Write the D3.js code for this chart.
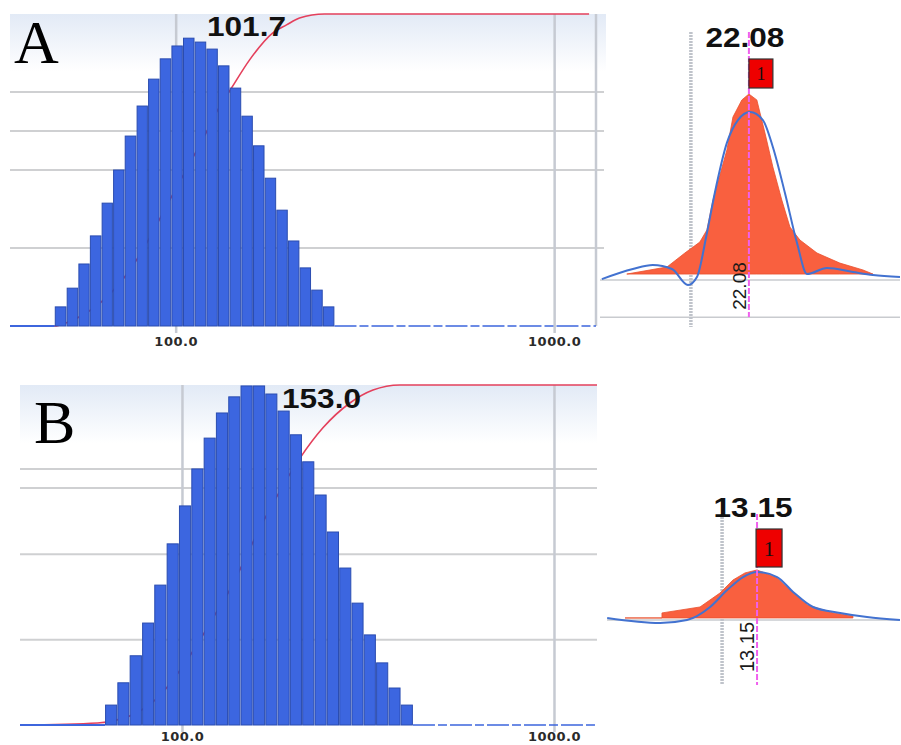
<!DOCTYPE html>
<html>
<head>
<meta charset="utf-8">
<script src="https://cdn.jsdelivr.net/npm/d3@7"></script>
<style>
body { margin: 0; background: #fff; }
</style>
</head>
<body>
<svg id="chart"></svg>
<script>
// ---------- data ----------
var sizeTicks = [100, 1000];

// panel A, size distribution (nm, intensity %)
var binEdgesA = [47.9, 51.5, 55.3, 59.3, 63.7, 68.3, 73.3, 78.8, 84.5, 90.7, 97.4, 104.5, 112.2,
                 120.5, 129.3, 138.8, 149.1, 160.0, 171.8, 184.4, 197.9, 212.4, 228.0, 244.8, 262.8];
var intensityA = [0.49, 0.97, 1.59, 2.31, 3.15, 4.00, 4.87, 5.64, 6.33, 6.85, 7.18, 7.38,
                  7.28, 7.10, 6.67, 6.10, 5.38, 4.62, 3.79, 2.97, 2.18, 1.49, 0.92, 0.49];
var cumSizeA = [36.5, 47.9, 51.3, 77.9, 83.3, 95.8, 104.4, 120.7, 129.1, 140.5, 156.8, 180.3, 196.3, 212.4, 247.3, 1237];
var cumValA  = [0, 0, 1, 20.2, 26, 39.7, 48, 62.2, 69.2, 76.3, 85.3, 93.9, 96.5, 98.7, 100, 100];
var gridA = [2, 4, 5, 6];

// panel B, size distribution
var binEdgesB = [62.1, 67.0, 72.3, 78.1, 84.2, 90.9, 98.1, 105.9, 114.3, 123.3, 133.1, 143.6, 155.0,
                 167.4, 180.6, 194.9, 210.3, 227.0, 245.0, 264.5, 285.4, 307.9, 332.3, 358.7, 387.1, 417.8];
var intensityB = [0.42, 0.89, 1.46, 2.15, 2.95, 3.82, 4.62, 5.40, 6.05, 6.58, 6.92, 7.15, 7.15,
                  6.98, 6.62, 6.12, 5.55, 4.85, 4.07, 3.31, 2.57, 1.90, 1.31, 0.78, 0.42];
var cumSizeB = [36.7, 59.4, 77.1, 83.6, 111.8, 121.2, 132.1, 165.1, 207.6, 239.3, 282.8, 326.2, 385.5, 1305];
var cumValB  = [0, 0.6, 4.1, 6.8, 25, 31.5, 38.2, 59.7, 78.5, 87.4, 94.7, 98.5, 100, 100];
var gridB = [1.8, 3.6, 5.0, 5.4];

// zeta panels (mV, counts)
var fillMvA  = [-24.4, -9.1, -2.3, 3.4, 6.1, 8.4, 13.7, 16.0, 19.4, 22.08, 25.1, 28.2, 31.2, 34.6, 37.7, 41.5, 48.0, 56.7, 65.5, 69.3];
var fillValA = [3.2, 7.0, 14.5, 20.4, 26.9, 43.0, 69.9, 87.6, 96.8, 100, 96.8, 79.0, 60.8, 43.0, 28.5, 21.5, 14.5, 9.1, 5.4, 3.2];
var fitMvA   = [-33.9, -22.1, -14.5, -7.2, -1.1, 2.3, 6.1, 9.1, 13.7, 17.9, 22.5, 27.4, 31.2, 35.8, 40.4, 44.2, 51.8, 61.7, 69.3, 79.6];
var fitValA  = [0.5, 5.9, 8.1, 5.9, -2.7, 1.6, 25.3, 46.8, 73.7, 86.0, 90.3, 86.0, 71.5, 46.8, 19.9, 3.2, 6.5, 4.3, 2.7, 1.6];

var fillMvB  = [-36.5, -22.6, -22.6, -8.3, -0.8, 4.1, 8.6, 13.15, 20.7, 26.7, 32.0, 41.7, 49.2];
var fillValB = [1.1, 1.1, 3.8, 7.0, 14.5, 21.5, 25.3, 26.9, 22.6, 14.5, 8.1, 3.8, 2.2];
var fitMvB   = [-43.2, -23.3, -13.2, -4.5, 1.9, 7.9, 13.15, 20.7, 26.7, 34.2, 44.4, 54.5, 66.9];
var fitValB  = [1.1, -1.6, 0, 7.0, 16.1, 23.1, 25.8, 23.1, 15.1, 7.0, 3.8, 1.6, 0];

var peakA = 22.08, peakB = 13.15;
var modeA = "101.7", modeB = "153.0";

// ---------- setup ----------
var svg = d3.select("#chart").attr("width", 901).attr("height", 745);

var grad = svg.append("defs").append("linearGradient")
	.attr("id", "band").attr("x1", 0).attr("y1", 0).attr("x2", 0).attr("y2", 1);
grad.append("stop").attr("offset", "0%").attr("stop-color", "#e2eaf6");
grad.append("stop").attr("offset", "100%").attr("stop-color", "#ffffff");

var zip = function (a, b) { return a.map(function (v, i) { return [v, b[i]]; }); };

//----------size distribution panel-------------
var drawSizePanel = function (p)
{
	var x = d3.scaleLog().domain(p.domain).range([p.left, p.right]);
	var y = d3.scaleLinear().domain([0, p.yMax]).range([p.base, p.top]);
	var yc = d3.scaleLinear().domain([0, 100]).range([p.base, p.top]);
	var g = svg.append("g");

	g.append("rect")
		.attr("x", p.left).attr("y", p.top)
		.attr("width", p.bandRight - p.left).attr("height", p.bandH)
		.attr("fill", "url(#band)");

	g.selectAll(".hgrid")
		.data(p.grid)
		.enter()
		.append("line")
		.attr("x1", p.left).attr("x2", p.gridRight)
		.attr("y1", function (d) { return y(d); })
		.attr("y2", function (d) { return y(d); })
		.attr("stroke", "#cfd0d2").attr("stroke-width", 2);

	// vertical grid + labels
	var axis = d3.axisBottom(x)
		.tickValues(sizeTicks)
		.tickFormat(d3.format(".1f"))
		.tickSizeInner(-(p.base + 7 - p.top))
		.tickSizeOuter(0)
		.tickPadding(p.pad);
	var ax = g.append("g")
		.attr("transform", "translate(0," + (p.base + 7) + ")")
		.call(axis);
	ax.select(".domain").remove();
	ax.selectAll("line").attr("stroke", "#c6cad2").attr("stroke-width", 2.5);
	ax.selectAll("text")
		.attr("fill", "#2a2a2a")
		.style("font-family", "DejaVu Sans")
		.style("font-weight", "bold")
		.style("font-size", "13px")
		.style("letter-spacing", "0.5px");

	if (p.border) {
		g.append("line")
			.attr("x1", p.right).attr("x2", p.right)
			.attr("y1", p.top).attr("y2", p.base)
			.attr("stroke", "#c6cad2").attr("stroke-width", 2.5);
	}

	// cumulative curve, behind bars
	var cum = d3.line()
		.x(function (d) { return x(d[0]); })
		.y(function (d) { return yc(d[1]); })
		.curve(d3.curveMonotoneX);
	g.append("path")
		.datum(zip(p.cumSize, p.cumVal))
		.attr("d", cum)
		.attr("fill", "none")
		.attr("stroke", "#e4405c").attr("stroke-width", 1.6);

	// baseline of the distribution
	g.append("line")
		.attr("x1", p.left).attr("x2", x(p.edges[0]))
		.attr("y1", p.base).attr("y2", p.base)
		.attr("stroke", "#3d66dd").attr("stroke-width", 2);
	g.append("line")
		.attr("x1", x(p.edges[p.edges.length - 1])).attr("x2", p.right)
		.attr("y1", p.base).attr("y2", p.base)
		.attr("stroke", "#3d66dd").attr("stroke-width", 1.5)
		.attr("stroke-dasharray", "22,3,9,3");

	g.selectAll(".bar")
		.data(p.values)
		.enter()
		.append("rect")
		.attr("x", function (d, i) { return x(p.edges[i]) + 0.6; })
		.attr("width", function (d, i) { return x(p.edges[i + 1]) - x(p.edges[i]) - 1.2; })
		.attr("y", function (d) { return y(d); })
		.attr("height", function (d) { return p.base - y(d); })
		.attr("fill", "#3c66e0")
		.attr("stroke", "#2a4cb0").attr("stroke-width", 1);

	g.append("text")
		.attr("x", p.modeX).attr("y", p.modeY)
		.attr("textLength", 79).attr("lengthAdjust", "spacingAndGlyphs")
		.style("font-family", "Liberation Sans")
		.style("font-weight", "bold")
		.style("font-size", "28px")
		.attr("fill", "#111")
		.text(p.mode);

	g.append("text")
		.attr("x", p.letterX).attr("y", p.letterY)
		.style("font-family", "Liberation Serif")
		.style("font-size", "62px")
		.attr("fill", "#000")
		.text(p.letter);
};

//----------zeta panel-------------
var drawZetaPanel = function (p)
{
	var x = d3.scaleLinear().domain(p.mvDomain).range([600, 900]);
	var y = d3.scaleLinear().domain([0, 100]).range([p.zero, p.zero - 186]);
	var g = svg.append("g");

	g.selectAll(".ref")
		.data(p.refs)
		.enter()
		.append("line")
		.attr("x1", p.refLeft).attr("x2", 900)
		.attr("y1", function (d) { return y(d); })
		.attr("y2", function (d) { return y(d); })
		.attr("stroke", "#c9cbcf").attr("stroke-width", 1.5);

	g.append("line")
		.attr("x1", x(0)).attr("x2", x(0))
		.attr("y1", p.vTop).attr("y2", p.vBot)
		.attr("stroke", "#bfc3ca").attr("stroke-width", 3.5)
		.attr("stroke-dasharray", "2,1");

	var area = d3.area()
		.x(function (d) { return x(d[0]); })
		.y0(y(p.fillBase))
		.y1(function (d) { return y(d[1]); });
	g.append("path")
		.datum(zip(p.fillMv, p.fillVal))
		.attr("d", area)
		.attr("fill", "#f9603f")
		.attr("stroke", "#e8502f").attr("stroke-width", 0.8);

	var fit = d3.line()
		.x(function (d) { return x(d[0]); })
		.y(function (d) { return y(d[1]); })
		.curve(d3.curveMonotoneX);
	g.append("path")
		.datum(zip(p.fitMv, p.fitVal))
		.attr("d", fit)
		.attr("fill", "none")
		.attr("stroke", "#4272d0").attr("stroke-width", 2);

	g.append("line")
		.attr("x1", x(p.peak)).attr("x2", x(p.peak))
		.attr("y1", p.vTop).attr("y2", p.mBot)
		.attr("stroke", "#f060ee").attr("stroke-width", 2)
		.attr("stroke-dasharray", "6,2");

	g.append("text")
		.attr("x", x(p.peak) - 4).attr("y", p.labelY)
		.attr("text-anchor", "middle")
		.attr("textLength", 79).attr("lengthAdjust", "spacingAndGlyphs")
		.style("font-family", "Liberation Sans")
		.style("font-weight", "bold")
		.style("font-size", "27px")
		.attr("fill", "#111")
		.text(p.peak.toFixed(2));

	g.append("rect")
		.attr("x", x(p.peak) + p.boxDx).attr("y", p.boxY)
		.attr("width", p.boxW).attr("height", p.boxH)
		.attr("fill", "#ee0000")
		.attr("stroke", "#333").attr("stroke-width", 1.2);
	g.append("text")
		.attr("x", x(p.peak) + p.boxDx + p.boxW / 2)
		.attr("y", p.boxY + p.boxH / 2 + p.boxFont * 0.35)
		.attr("text-anchor", "middle")
		.style("font-family", "Liberation Serif")
		.style("font-size", p.boxFont + "px")
		.attr("fill", "#111")
		.text("1");

	g.append("text")
		.attr("transform", "translate(" + (x(p.peak) - 3) + "," + p.rotY + ") rotate(-90)")
		.attr("text-anchor", "middle")
		.style("font-family", "Liberation Sans")
		.style("font-size", p.rotFont + "px")
		.attr("fill", "#1a1a1a")
		.text(p.peak.toFixed(2));
};

drawSizePanel({
	domain: [36.5, 1290], left: 10, right: 596, top: 14, base: 326,
	yMax: 8, grid: gridA, gridRight: 604, bandRight: 606, bandH: 58, pad: 4, border: true,
	edges: binEdgesA, values: intensityA, cumSize: cumSizeA, cumVal: cumValA,
	mode: modeA, modeX: 207, modeY: 36, letter: "A", letterX: 14, letterY: 63
});
drawSizePanel({
	domain: [36.7, 1305], left: 20, right: 597, top: 385, base: 725,
	yMax: 7.17, grid: gridB, gridRight: 597, bandRight: 597, bandH: 58, pad: 0, border: false,
	edges: binEdgesB, values: intensityB, cumSize: cumSizeB, cumVal: cumValB,
	mode: modeB, modeX: 282, modeY: 408, letter: "B", letterX: 34, letterY: 443
});
drawZetaPanel({
	mvDomain: [-34.6, 79.6], zero: 280, refs: [0, -20], refLeft: 600,
	vTop: 32, vBot: 327, mBot: 317, peak: peakA, fillBase: 3.2,
	fillMv: fillMvA, fillVal: fillValA, fitMv: fitMvA, fitVal: fitValA,
	labelY: 47, boxDx: 0, boxY: 59, boxW: 24, boxH: 29, boxFont: 18, rotY: 286, rotFont: 19
});
drawZetaPanel({
	mvDomain: [-45.9, 66.9], zero: 620, refs: [0], refLeft: 607,
	vTop: 514, vBot: 685, mBot: 685, peak: peakB, fillBase: 1.1,
	fillMv: fillMvB, fillVal: fillValB, fitMv: fitMvB, fitVal: fitValB,
	labelY: 517, boxDx: -1, boxY: 529, boxW: 26, boxH: 38, boxFont: 22, rotY: 647, rotFont: 20
});
</script>
</body>
</html>
